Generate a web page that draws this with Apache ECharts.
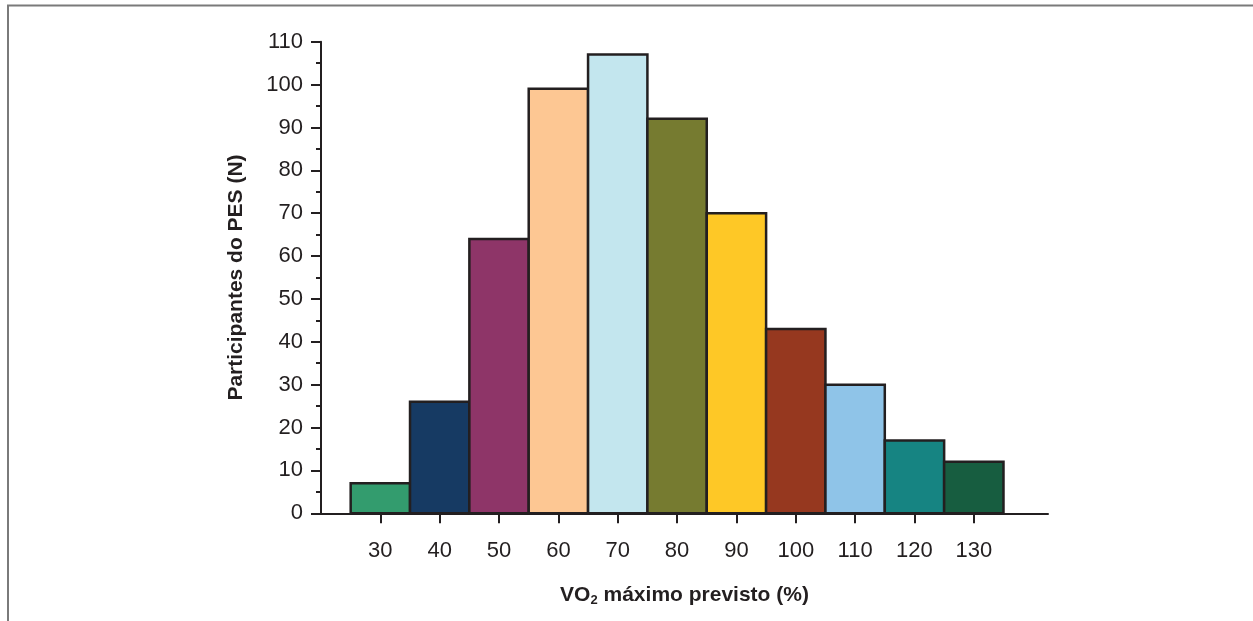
<!DOCTYPE html>
<html>
<head>
<meta charset="utf-8">
<script src="https://cdn.jsdelivr.net/npm/echarts@6/dist/echarts.min.js"></script>
<style>
  html, body { margin:0; padding:0; background:#fff; }
  #chart { width:1253px; height:621px; }
</style>
</head>
<body>
<div id="chart"></div>
<script>
// Data
const categories = [30, 40, 50, 60, 70, 80, 90, 100, 110, 120, 130];
const counts = [7, 26, 64, 99, 107, 92, 70, 43, 30, 17, 12];
const yTicks = [0, 10, 20, 30, 40, 50, 60, 70, 80, 90, 100, 110];
const binWidth = 10;

// Styles
const barColors = ['#339c6e', '#163a63', '#8e3568', '#fdc793', '#c3e6ee', '#767b30',
                   '#fec826', '#96381f', '#8fc4e8', '#168482', '#175d40'];
const FONT = '"Liberation Sans Narrow", "Arial Narrow", "Liberation Sans", Arial, sans-serif';
const INK = '#231f20';

const chart = echarts.init(document.getElementById('chart'), null, { renderer: 'canvas' });

const option = {
  animation: false,
  backgroundColor: '#fff',
  grid: { left: 321, top: 41.7, right: 205, bottom: 107.7, containLabel: false },
  graphic: [{
    type: 'polyline',
    shape: { points: [[8, 621], [8, 5.5], [1253, 5.5]] },
    style: { stroke: '#7a7a7a', lineWidth: 2, fill: null }
  }],
  xAxis: {
    type: 'value',
    min: 20,
    max: 142.5,
    splitLine: { show: false },
    axisLine: { show: true, onZero: false, lineStyle: { color: INK, width: 2 } },
    axisTick: { show: true, inside: false, length: 10, customValues: categories, lineStyle: { color: INK, width: 2 } },
    axisLabel: { customValues: categories, margin: 27, color: INK, fontFamily: FONT, fontSize: 22 },
    name: 'VO{sub|2} máximo previsto (%)',
    nameLocation: 'middle',
    nameGap: 69,
    nameTextStyle: {
      color: INK, fontFamily: FONT, fontSize: 21, fontWeight: 'bold',
      rich: { sub: { fontFamily: FONT, fontSize: 13, fontWeight: 'bold', color: INK, verticalAlign: 'bottom', padding: [12, 0, 0, 0] } }
    }
  },
  yAxis: {
    type: 'value',
    min: 0,
    max: 110,
    interval: 10,
    splitLine: { show: false },
    axisLine: { show: true, lineStyle: { color: INK, width: 2 } },
    axisTick: { show: true, inside: false, length: 10, lineStyle: { color: INK, width: 2 } },
    minorTick: { show: true, splitNumber: 2, length: 5, lineStyle: { color: INK, width: 2 } },
    axisLabel: { margin: 18, color: INK, fontFamily: FONT, fontSize: 22,
      customValues: yTicks },
    name: 'Participantes do PES (N)',
    nameLocation: 'middle',
    nameGap: 74,
    nameTextStyle: { color: INK, fontFamily: FONT, fontSize: 21, fontWeight: 'bold' }
  },
  series: [{
    type: 'custom',
    data: categories.map((c, i) => [c, counts[i]]),
    encode: { x: 0, y: 1 },
    renderItem: function (params, api) {
      const x = api.value(0), y = api.value(1);
      const p0 = api.coord([x - binWidth / 2, y]);
      const p1 = api.coord([x + binWidth / 2, 0]);
      return {
        type: 'rect',
        shape: { x: p0[0], y: p0[1], width: p1[0] - p0[0], height: p1[1] - p0[1] },
        style: { fill: barColors[params.dataIndex], stroke: INK, lineWidth: 2.5 }
      };
    }
  }]
};
chart.setOption(option);
</script>
</body>
</html>
